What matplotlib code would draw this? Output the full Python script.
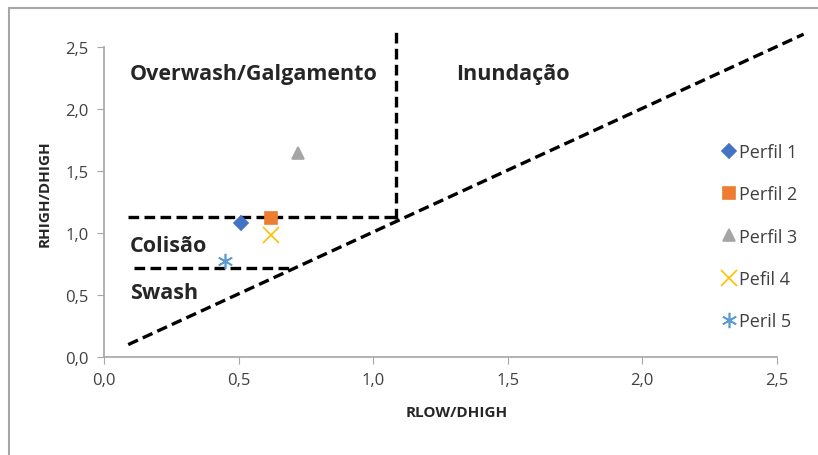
import matplotlib.pyplot as plt
from matplotlib.patches import Rectangle

plt.rcParams['font.family'] = ['Open Sans', 'DejaVu Sans']

# profile points (Rlow/Dhigh, Rhigh/Dhigh)
labels = ['Perfil 1', 'Perfil 2', 'Perfil 3', 'Pefil 4', 'Peril 5']
x_vals = [0.51, 0.62, 0.72, 0.62, 0.45]
y_vals = [1.08, 1.12, 1.64, 0.98, 0.77]
markers = ['D', 's', '^', 'x', (6, 2, 0)]
colors = ['#4472C4', '#ED7D31', '#A5A5A5', '#FFC000', '#5B9BD5']
sizes = [7, 9, 9, 11, 11]

# regime boundaries
diag_x = [0.09, 2.60]
diag_y = [0.10, 2.60]
vert_x = [1.085, 1.085]
vert_y = [1.11, 2.63]
upper_x = [0.09, 1.085]
upper_y = [1.13, 1.13]
lower_x = [0.11, 0.70]
lower_y = [0.72, 0.72]

ticks = [0.0, 0.5, 1.0, 1.5, 2.0, 2.5]
tick_labels = ['0,0', '0,5', '1,0', '1,5', '2,0', '2,5']

W, H = 818, 456
fig = plt.figure(figsize=(W / 100, H / 100), dpi=100)
fig.patches.append(Rectangle((9 / W, -0.01), 1.1, 1 - 9 / H + 0.01,
                             transform=fig.transFigure, fill=False,
                             edgecolor='#A6A6A6', linewidth=1.5))
ax = fig.add_axes([104 / W, (H - 358) / H, (809 - 104) / W, (358 - 29) / H])

dash = dict(color='black', linestyle=(0, (3.2, 1.6)), linewidth=2.4)
for lx, ly in [(diag_x, diag_y), (vert_x, vert_y), (upper_x, upper_y), (lower_x, lower_y)]:
    ax.plot(lx, ly, clip_on=False, **dash)

for lab, x, y, m, c, s in zip(labels, x_vals, y_vals, markers, colors, sizes):
    ax.plot([x], [y], linestyle='none', marker=m, color=c, markersize=s,
            markeredgewidth=1.2, label=lab, zorder=3)

txt = dict(fontsize=15.5, fontweight='bold', color='#262626')
ax.text(0.095, 2.28, 'Overwash/Galgamento', va='center', **txt)
ax.text(1.31, 2.28, 'Inundação', va='center', **txt)
ax.text(0.095, 0.90, 'Colisão', va='center', **txt)
ax.text(0.095, 0.52, 'Swash', va='center', **txt)

ax.set_xlim(0, 2.62)
ax.set_ylim(0, 2.65)
ax.set_xticks(ticks)
ax.set_xticklabels(tick_labels)
ax.set_yticks(ticks)
ax.set_yticklabels(tick_labels)
ax.tick_params(colors='#A6A6A6', labelcolor='#404040', labelsize=12,
               direction='out', length=5, pad=6)
for side in ['top', 'right']:
    ax.spines[side].set_visible(False)
for side in ['left', 'bottom']:
    ax.spines[side].set_color('#A6A6A6')
    ax.spines[side].set_linewidth(1.2)
    ax.spines[side].set_bounds(0, 2.5)

ax.set_xlabel('RLOW/DHIGH', fontsize=11, fontweight='bold', color='#262626', labelpad=12)
ax.set_ylabel('RHIGH/DHIGH', fontsize=11, fontweight='bold', color='#262626', labelpad=10)

ax.legend(loc='upper left', bbox_to_anchor=(0.85, 0.70), frameon=False,
          fontsize=13, handletextpad=0.1, handlelength=1.0,
          labelspacing=1.35, labelcolor='#404040')

fig.savefig('out.png', dpi=100)
